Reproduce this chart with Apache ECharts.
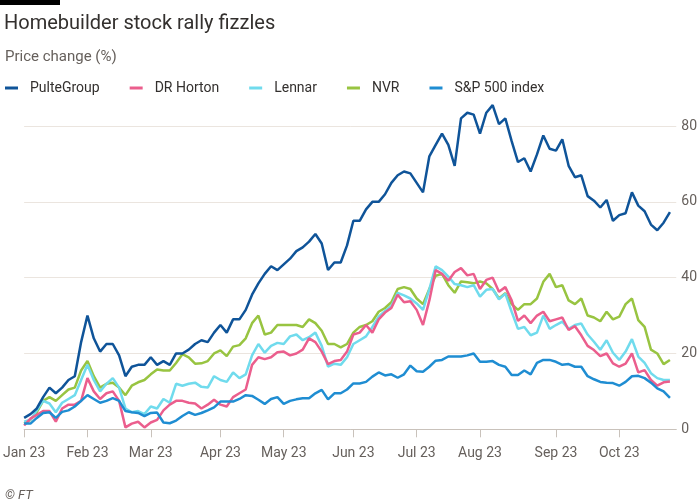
<!DOCTYPE html>
<html>
<head>
<meta charset="utf-8">
<script src="https://cdn.jsdelivr.net/npm/echarts@6/dist/echarts.min.js"></script>
<style>
html,body{margin:0;padding:0;background:#fff;}
#chart{width:700px;height:500px;}
</style>
</head>
<body>
<div id="chart"></div>
<script>
// Trading-day sampling: every second NYSE trading day from 3 Jan 2023
const seriesNames = ["PulteGroup", "DR Horton", "Lennar", "NVR", "S&P 500 index"];
const monthNames = ["Jan", "Feb", "Mar", "Apr", "May", "Jun", "Jul", "Aug", "Sep", "Oct", "Nov", "Dec"];
const holidays = ["2023-01-16", "2023-02-20", "2023-04-07", "2023-05-29", "2023-06-19", "2023-07-04", "2023-09-04"];
const yTicks = [0, 20, 40, 60, 80];

const pulteGroup = [3,4,5.5,8.5,11,9.5,11,13,14,23,
30,24,20.5,22.5,22.5,19.5,14,16.5,17,17,
19,17,18,17,20,20,21,22.5,23.5,23,
25.5,27.5,25.5,29,29,31.5,35.5,38.5,41,43,
42,43.5,45,47,48,49.5,51.5,49,42,44,
44,48.5,55,55,58,60,60,62,65,67,
68,67.5,65,62.5,72,75,78,75,69.5,82,
83.5,83,78,83.5,85.5,80.5,82,76,70.5,71.5,
68,72.5,77.5,74,73.5,76.5,69.5,66.5,67,61.5,
60.3,58.5,60.5,55,56.5,57,62.5,59,57.5,54,
52.5,54.5,57.3];

const drHorton = [1,2.8,3.8,4.8,4.8,2,5.5,6.5,6.5,7.5,
13.5,10,8,9.5,10,7.5,0.5,1.5,2,0.5,
1.8,2.5,5,6.5,7.5,7.5,7,6.8,5.5,6.5,
7.8,6.5,6,8.5,9.5,10.5,17,19,18.5,19,
20.3,20.5,19.5,20,21,24,23,20.5,17.2,18,
18.3,20.5,25,25.5,27.5,25.5,29,30.8,32,35.5,
33.5,33.8,31.5,27.5,34,42,41,39.2,41.5,42.5,
40.6,41,37,39.4,40,36.3,37.5,34,28.6,30,
28,30,31,28.5,29,29.5,26.2,27.2,24.8,22,
20.9,19.3,20,17.4,16.5,17.3,20,15,15.6,13,
11.5,12.4,12.6];

const lennar = [2,2.5,5,7.5,6.8,4.5,7,8,9,13,
17,13,10,12,13.5,11,5.5,4.5,4.8,4,
6,5.5,8,7,12,11.5,12,12.3,11.2,11,
14,13,12.5,15,13.5,14.5,19.5,22.5,20.2,22,
22.8,22.5,24.5,25,23.5,24.3,25.5,22,16.5,17.3,
17,19,22.5,23.5,24.5,27,29.7,31.2,32.5,36,
35.3,34.5,33.2,31.5,37,43,42,40.3,38.3,38,
37.5,38,35,36.8,37,34.3,35.8,31,26.5,27,
24.8,25.5,30,26.5,27.5,28.4,26.5,27.5,27.9,25,
23.1,21,23.5,20.2,18.3,20.5,23.8,19.2,17.5,14.8,
13.5,13,13];

const nvr = [1.5,2.5,4.5,7.5,8.5,7.5,9,10.5,11,15.5,
18,14,11,12,12.3,11,9,11.5,12.4,13,
14.5,15.8,15.5,15.5,17.5,19.8,19,17.3,17.4,18,
20,20.8,19.3,21.8,22.2,24,28,30,25,25.5,
27.5,27.5,27.5,27.5,27,29,28,26,22.5,22.5,
21.6,22.5,25.5,27,27.5,28.5,31,32,33.5,37,
37.5,37,34.5,33,37,40.5,41,38,36,39,
38.8,38.5,39,38.5,37,34.5,35.9,33,31.5,33,
33,34.5,38.9,41,37.5,38,34,33,34.5,30,
29.5,28.5,31,29,29.7,33,34.5,28.8,27,21,
20,17.2,18.3];

const sp500 = [1.5,1.5,3,4.3,4.5,3,4.6,5,6,7.5,
9,8,7,7.5,8.2,7.5,4.8,4.5,4.3,3.5,
4.3,4.4,1.8,1.6,2.3,3.5,4.5,3.8,4.3,5,
5.8,7.3,7.3,7.3,8,9,8.8,7.8,6.7,8,
8.5,6.7,7.5,7.9,8.2,8.2,9.5,10.4,7.9,9.5,
9.5,10.5,12.1,12.1,12.5,13.9,15,14.2,14.5,13.6,
14.5,16.8,15.3,15.2,16.5,18.1,18.3,19.2,19.2,19.2,
19.5,20,17.8,17.8,18,17,16.5,14.3,14.3,15.5,
14.5,17.5,18.3,18.3,17.8,17,17.2,16.5,16.5,14,
13.2,12.5,12.3,12.2,11.5,12.5,14,14.1,13.5,12.3,
10.8,10,8.3];

const colors = {
  "PulteGroup": "#0f5499",
  "DR Horton": "#eb5e8d",
  "Lennar": "#70dbed",
  "NVR": "#98c441",
  "S&P 500 index": "#1f8dd2"
};

// build trading-day categories (every second trading day), plus one trailing slot
function buildDates() {
  const out = [];
  const d = new Date(Date.UTC(2023, 0, 3));
  const end = new Date(Date.UTC(2023, 9, 31));
  while (d <= end) {
    const wd = d.getUTCDay();
    const s = d.toISOString().slice(0, 10);
    if (wd !== 0 && wd !== 6 && holidays.indexOf(s) < 0) out.push(s);
    d.setUTCDate(d.getUTCDate() + 1);
  }
  const sampled = [];
  for (let i = 0; i < out.length; i += 2) sampled.push(out[i]);
  return sampled.slice(0, pulteGroup.length + 1);
}
const dates = buildDates();

function isMonthStart(index) {
  if (index === 0) return true;
  if (index >= pulteGroup.length) return false;
  return dates[index].slice(5, 7) !== dates[index - 1].slice(5, 7);
}

const dataMap = {
  "PulteGroup": pulteGroup,
  "DR Horton": drHorton,
  "Lennar": lennar,
  "NVR": nvr,
  "S&P 500 index": sp500
};
const drawOrder = ["NVR", "Lennar", "DR Horton", "S&P 500 index", "PulteGroup"];

const chart = echarts.init(document.getElementById('chart'), null, {renderer: 'canvas'});
const FONT = 'Roboto, "Noto Sans", sans-serif';

const option = {
  backgroundColor: '#ffffff',
  animation: false,
  textStyle: {fontFamily: FONT},
  title: [
    {text: 'Homebuilder stock rally fizzles', left: -1, top: 9,
     textStyle: {fontFamily: FONT, fontSize: 20, fontWeight: 'normal', color: '#33302e'}},
    {text: 'Price change (%)', left: 0, top: 45,
     textStyle: {fontFamily: FONT, fontSize: 15, fontWeight: 'normal', color: '#66605c'}},
    {text: '© FT', left: 0, top: 484,
     textStyle: {fontFamily: FONT, fontSize: 13, fontWeight: 'normal', fontStyle: 'italic', color: '#66605c'}}
  ],
  graphic: [
    {type: 'rect', left: 0, top: 0, shape: {width: 60, height: 5}, style: {fill: '#000000'}}
  ],
  legend: {
    data: seriesNames,
    left: 0, top: 76,
    icon: 'rect', itemWidth: 13, itemHeight: 3, itemGap: 30,
    textStyle: {fontFamily: FONT, fontSize: 14, color: '#33302e', padding: [0, 0, 0, 7]}
  },
  grid: {left: 22, right: 23, top: 126, bottom: 70.7, containLabel: false},
  xAxis: {
    type: 'category',
    data: dates,
    boundaryGap: false,
    axisLine: {show: true, lineStyle: {color: '#c9c2bb', width: 1}},
    axisTick: {show: true, length: 8, interval: function (i) { return isMonthStart(i); },
               lineStyle: {color: '#c9c2bb'}},
    axisLabel: {
      interval: function (i) { return isMonthStart(i); },
      formatter: function (v) { return monthNames[parseInt(v.slice(5, 7), 10) - 1] + ' 23'; },
      margin: 17, fontSize: 14, color: '#66605c', fontFamily: FONT
    },
    splitLine: {show: false}
  },
  yAxis: {
    type: 'value', position: 'right', min: yTicks[0], max: yTicks[yTicks.length - 1], interval: 20,
    axisLine: {show: false}, axisTick: {show: false},
    axisLabel: {margin: 5, fontSize: 14, color: '#66605c', fontFamily: FONT},
    splitLine: {lineStyle: {color: '#ebe5df', width: 1}}
  },
  series: drawOrder.map(function (name) {
    return {
      name: name, type: 'line', data: dataMap[name],
      showSymbol: false, symbol: 'none', clip: false,
      lineStyle: {width: 2.5, color: colors[name]},
      itemStyle: {color: colors[name]},
      emphasis: {disabled: true}
    };
  })
};
chart.setOption(option);
</script>
</body>
</html>
